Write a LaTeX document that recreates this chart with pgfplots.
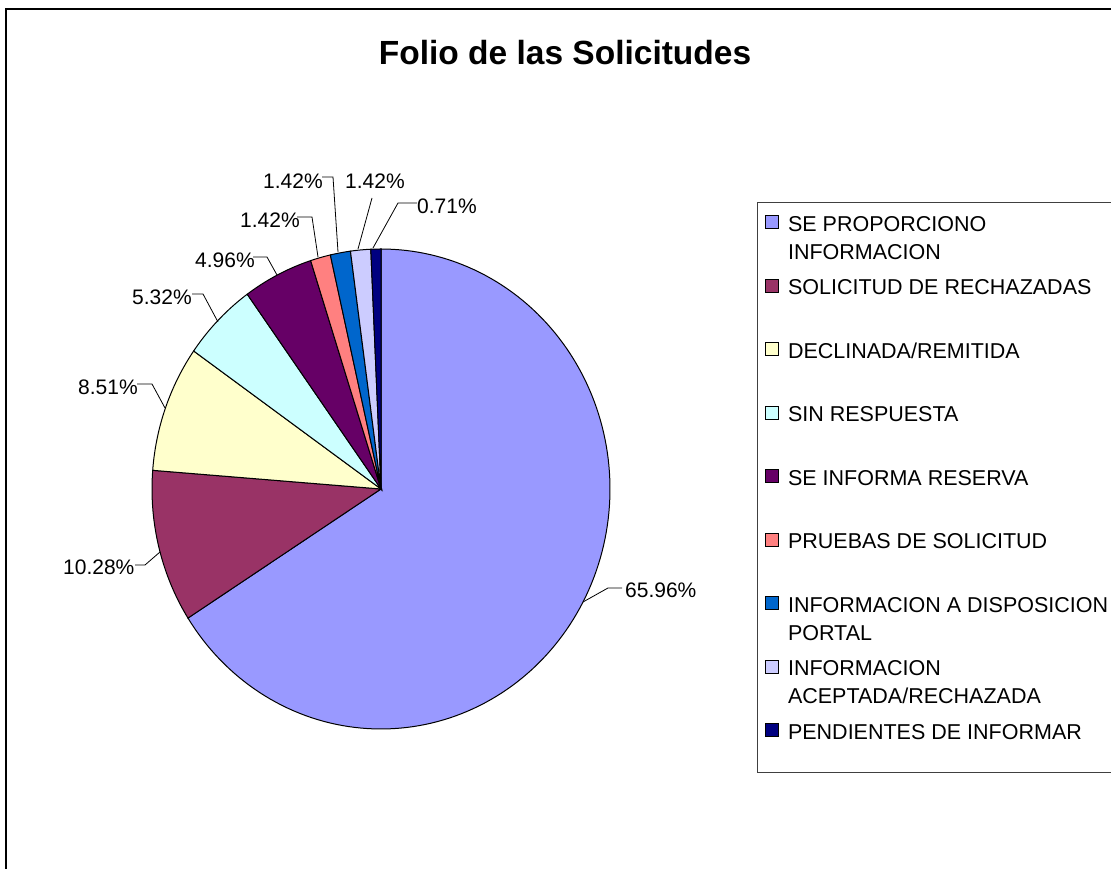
\documentclass[border=0pt]{standalone}
\usepackage{fontspec}
\setmainfont{Liberation Sans}
\usepackage{pgfplots}
\pgfplotsset{compat=1.18}
\definecolor{c1}{HTML}{9999FF}
\definecolor{c2}{HTML}{993366}
\definecolor{c3}{HTML}{FFFFCC}
\definecolor{c4}{HTML}{CCFFFF}
\definecolor{c5}{HTML}{660066}
\definecolor{c6}{HTML}{FF8080}
\definecolor{c7}{HTML}{0066CC}
\definecolor{c8}{HTML}{CCCCFF}
\definecolor{c9}{HTML}{000080}
\tikzset{lab/.style={anchor=west, inner sep=0pt, font=\fontsize{21}{25}\selectfont}}
\newcommand{\LEone}[1]{\raisebox{0pt}[20pt][4.6pt]{#1}}
\newcommand{\LEtwo}[2]{\raisebox{0pt}[20pt][4.6pt]{\vtop{\hbox{#1}\hbox{#2}}}}
\begin{document}
\begin{tikzpicture}
\begin{axis}[
  scale only axis, width=1111pt, height=869pt,
  xmin=0, xmax=1111, ymin=0, ymax=869,
  hide axis, clip=false,
  legend cell align=left,
  legend image code/.code={\draw[#1, draw=black, line width=0.8pt] (0pt,-6.5pt) rectangle (13pt,6.5pt);},
  legend style={at={(0.6814,0.7664)}, anchor=north west, draw=none, fill=none,
    inner xsep=8pt, inner ysep=8.2pt, row sep=42pt, column sep=9pt,
    font=\fontsize{21.5}{28}\selectfont, nodes={inner sep=0pt}},
]
% pie slices: percentages 65.96, 10.28, 8.51, 5.32, 4.96, 1.42, 1.42, 1.42, 0.71 (clockwise from 12 o'clock)
\addplot[fill=c1, draw=black, line width=1pt, domain=90-3.6*65.96:90, samples=150] ({381+229*cos(x)},{380+240*sin(x)}) -- (axis cs:381,380) -- cycle;
\addlegendentry{\LEtwo{SE PROPORCIONO}{INFORMACION}}
\addplot[fill=c2, draw=black, line width=1pt, domain=90-3.6*76.24:90-3.6*65.96, samples=40] ({381+229*cos(x)},{380+240*sin(x)}) -- (axis cs:381,380) -- cycle;
\addlegendentry{\LEone{SOLICITUD DE RECHAZADAS}}
\addplot[fill=c3, draw=black, line width=1pt, domain=90-3.6*84.75:90-3.6*76.24, samples=40] ({381+229*cos(x)},{380+240*sin(x)}) -- (axis cs:381,380) -- cycle;
\addlegendentry{\LEone{DECLINADA/REMITIDA}}
\addplot[fill=c4, draw=black, line width=1pt, domain=90-3.6*90.07:90-3.6*84.75, samples=30] ({381+229*cos(x)},{380+240*sin(x)}) -- (axis cs:381,380) -- cycle;
\addlegendentry{\LEone{SIN RESPUESTA}}
\addplot[fill=c5, draw=black, line width=1pt, domain=90-3.6*95.03:90-3.6*90.07, samples=30] ({381+229*cos(x)},{380+240*sin(x)}) -- (axis cs:381,380) -- cycle;
\addlegendentry{\LEone{SE INFORMA RESERVA}}
\addplot[fill=c6, draw=black, line width=1pt, domain=90-3.6*96.45:90-3.6*95.03, samples=10] ({381+229*cos(x)},{380+240*sin(x)}) -- (axis cs:381,380) -- cycle;
\addlegendentry{\LEone{PRUEBAS DE SOLICITUD}}
\addplot[fill=c7, draw=black, line width=1pt, domain=90-3.6*97.87:90-3.6*96.45, samples=10] ({381+229*cos(x)},{380+240*sin(x)}) -- (axis cs:381,380) -- cycle;
\addlegendentry{\LEtwo{INFORMACION A DISPOSICION}{PORTAL}}
\addplot[fill=c8, draw=black, line width=1pt, domain=90-3.6*99.29:90-3.6*97.87, samples=10] ({381+229*cos(x)},{380+240*sin(x)}) -- (axis cs:381,380) -- cycle;
\addlegendentry{\LEtwo{INFORMACION}{ACEPTADA/RECHAZADA}}
\addplot[fill=c9, draw=black, line width=1pt, domain=90-3.6*100:90-3.6*99.29, samples=8] ({381+229*cos(x)},{380+240*sin(x)}) -- (axis cs:381,380) -- cycle;
\addlegendentry{\LEone{PENDIENTES DE INFORMAR}}
% leader lines
\addplot[black, line width=0.8pt, forget plot] coordinates {(583,267) (608,281) (622,281)};
\addplot[black, line width=0.8pt, forget plot] coordinates {(135,304) (145,304) (160,317)};
\addplot[black, line width=0.8pt, forget plot] coordinates {(137,485) (152,485) (165,461)};
\addplot[black, line width=0.8pt, forget plot] coordinates {(192,575) (203,575) (218,547)};
\addplot[black, line width=0.8pt, forget plot] coordinates {(253,612) (267,612) (277,594)};
\addplot[black, line width=0.8pt, forget plot] coordinates {(297,652) (312,652) (318,612)};
\addplot[black, line width=0.8pt, forget plot] coordinates {(322,692) (333,692) (338,617)};
\addplot[black, line width=0.8pt, forget plot] coordinates {(372,671) (358,620)};
\addplot[black, line width=0.8pt, forget plot] coordinates {(417,666) (398,666) (373,621)};
% data labels
\node[lab] at (axis cs:625,279) {65.96\%};
\node[lab] at (axis cs:63,302) {10.28\%};
\node[lab] at (axis cs:78,482) {8.51\%};
\node[lab] at (axis cs:132,572) {5.32\%};
\node[lab] at (axis cs:195,609) {4.96\%};
\node[lab] at (axis cs:240,649) {1.42\%};
\node[lab] at (axis cs:263,688) {1.42\%};
\node[lab] at (axis cs:345,688) {1.42\%};
\node[lab] at (axis cs:417,663) {0.71\%};
% title
\node[anchor=base, font=\bfseries\fontsize{33.5}{40}\selectfont] at (axis cs:565,804) {Folio de las Solicitudes};
% chart border and legend frame
\draw[line width=2pt] (axis cs:6,-10) -- (axis cs:6,860) -- (axis cs:1125,860);
\draw[black!75, line width=1pt] (axis cs:1125,666) -- (axis cs:757,666) -- (axis cs:757,96) -- (axis cs:1125,96);
\coordinate (bl) at (axis cs:0,0);
\coordinate (tr) at (axis cs:1111,869);
\end{axis}
\pgfresetboundingbox
\path[use as bounding box] (bl) rectangle (tr);
\end{tikzpicture}
\end{document}
